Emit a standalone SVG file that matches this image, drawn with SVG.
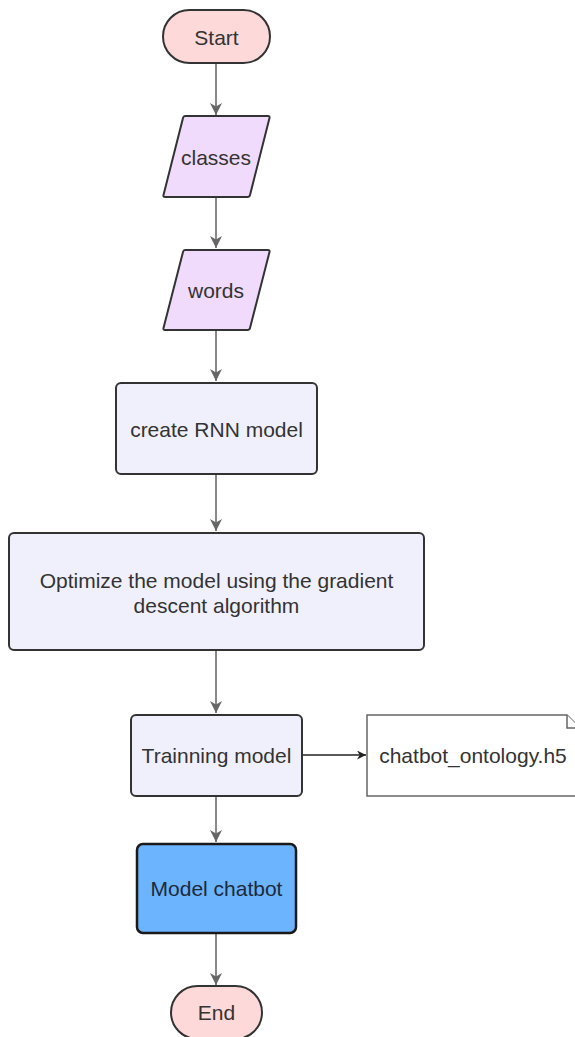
<svg xmlns="http://www.w3.org/2000/svg" width="575" height="1037" viewBox="0 0 575 1037">
  <style>
    text { font-family: "Liberation Sans", Arial, sans-serif; font-size: 21px; fill: #333333; text-anchor: middle; dominant-baseline: central; }
    .term { fill: #fdd9d9; stroke: #333333; stroke-width: 2; }
    .io { fill: #f1dbfc; stroke: #333333; stroke-width: 2; stroke-linejoin: round; }
    .proc { fill: #f0f0fc; stroke: #333333; stroke-width: 2; }
    .out { fill: #6cb4fd; stroke: #1a1a1a; stroke-width: 2.5; }
    .doc { fill: #ffffff; stroke: #666666; stroke-width: 1.5; }
    .flow { stroke: #888888; stroke-width: 2; fill: none; marker-end: url(#ah); }
    .flow-dark { stroke: #222222; stroke-width: 1.5; fill: none; marker-end: url(#ahd); }
  </style>
  <defs>
    <marker id="ah" viewBox="0 0 10 10" refX="10" refY="5" markerWidth="6" markerHeight="6" orient="auto" markerUnits="strokeWidth">
      <path d="M0,0 L10,5 L0,10 L3,5 Z" fill="#666666"/>
    </marker>
    <marker id="ahd" viewBox="0 0 10 10" refX="10" refY="5" markerWidth="6" markerHeight="6" orient="auto" markerUnits="strokeWidth">
      <path d="M0,0 L10,5 L0,10 L3,5 Z" fill="#222222"/>
    </marker>
  </defs>

  <g id="connectors">
    <line class="flow" x1="216" y1="63" x2="216" y2="115"/>
    <line class="flow" x1="216" y1="197" x2="216" y2="248"/>
    <line class="flow" x1="216" y1="330" x2="216" y2="381"/>
    <line class="flow" x1="216" y1="474" x2="216" y2="531"/>
    <line class="flow" x1="216" y1="650" x2="216" y2="713"/>
    <line class="flow-dark" x1="302" y1="755" x2="366" y2="755"/>
    <line class="flow" x1="216" y1="796" x2="216" y2="842"/>
    <line class="flow" x1="216" y1="933" x2="216" y2="985"/>
  </g>

  <g id="start">
    <rect class="term" x="163" y="10" width="107" height="53" rx="26.5"/>
    <text x="216.5" y="37">Start</text>
  </g>

  <g id="classes">
    <path class="io" d="M185,116 L268,116 Q270,116 269.5,118 L250,195 Q249.5,197 247.5,197 L165,197 Q163,197 163.5,195 L183,118 Q183.5,116 185,116 Z"/>
    <text x="216" y="157">classes</text>
  </g>

  <g id="words">
    <path class="io" d="M185,250 L268,250 Q270,250 269.5,252 L250,328 Q249.5,330 247.5,330 L165,330 Q163,330 163.5,328 L183,252 Q183.5,250 185,250 Z"/>
    <text x="216" y="290">words</text>
  </g>

  <g id="create-rnn">
    <rect class="proc" x="116" y="383" width="201" height="91" rx="5"/>
    <text x="216.5" y="429">create RNN model</text>
  </g>

  <g id="optimize">
    <rect class="proc" x="9" y="533" width="415" height="117" rx="5"/>
    <text x="216.5" y="580">Optimize the model using the gradient</text>
    <text x="216.5" y="605">descent algorithm</text>
  </g>

  <g id="training">
    <rect class="proc" x="131" y="715" width="171" height="81" rx="5"/>
    <text x="216.5" y="755">Trainning model</text>
  </g>

  <g id="h5-file">
    <path class="doc" d="M367,715 L567,715 L580,728 L580,796 L367,796 Z"/>
    <path class="doc" d="M567,715 L567,728 L580,728" fill="none"/>
    <text x="473" y="755">chatbot_ontology.h5</text>
  </g>

  <g id="model-chatbot">
    <rect class="out" x="137" y="844" width="159" height="89" rx="6"/>
    <text x="216.5" y="888" style="fill:#1c2a3c">Model chatbot</text>
  </g>

  <g id="end">
    <rect class="term" x="171" y="986" width="91" height="53" rx="26.5"/>
    <text x="216.5" y="1012">End</text>
  </g>
</svg>
